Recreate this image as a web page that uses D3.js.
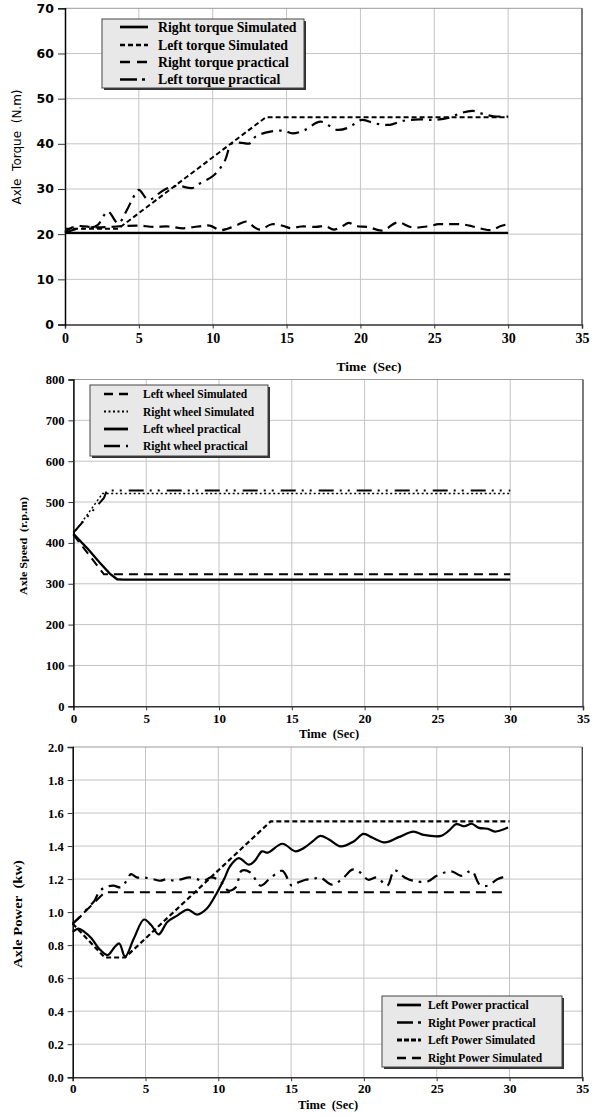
<!DOCTYPE html>
<html><head><meta charset="utf-8">
<script src="https://cdn.jsdelivr.net/npm/d3@7"></script>
<style>body{margin:0;background:#fff}svg{display:block}text{white-space:pre}</style>
</head><body>
<script>
// ---------- shared ticks ----------
const timeTicks = [0,5,10,15,20,25,30,35];
const torqueTicks = [0,10,20,30,40,50,60,70];
const speedTicks = [0,100,200,300,400,500,600,700,800];
const powerTicks = [0,0.2,0.4,0.6,0.8,1.0,1.2,1.4,1.6,1.8,2.0];

// ---------- chart 1: torque ----------
const rightTorqueSim = [[0,20.3],[30,20.3]];
const leftTorqueSim = [[0,21.2],[3.6,21.2],[13.6,45.9],[30,45.9]];
const rightTorquePrac = [[0,20.5],[0.5,21.5],[1,21.8],[2,21.5],[3,21.6],[4,21.8],[5,21.9],[6,21.6],[7,21.7],[8,21.3],[9,21.7],[9.8,21.9],[10.5,20.9],[11,21.2],[11.7,22.1],[12.3,22.8],[12.8,21.6],[13.2,21],[14,22.2],[14.8,21.8],[15.3,21.3],[16,21.7],[17,21.6],[17.6,21.8],[18.2,21],[18.8,21.8],[19.2,22.5],[19.7,21.8],[20.5,21.6],[21.5,20.8],[22.5,22.6],[23.5,21.5],[24.5,21.7],[25.3,22.2],[26,22.2],[26.8,22.2],[27.5,21.8],[28.2,21.2],[28.9,20.9],[29.5,21.8],[30,22.2]];
const leftTorquePrac = [[0,20.2],[0.8,21.2],[1.5,21.3],[2.2,22],[2.9,25],[3.6,22.4],[4.2,25.4],[4.6,28],[5.0,29.8],[5.65,27.6],[6.7,29.8],[7.6,30.7],[8.6,30.2],[9.0,31],[10.1,33.1],[10.8,36.1],[11.3,40.1],[12.0,40.2],[12.5,40.1],[12.9,41.6],[13.9,42.7],[14.8,42.9],[15.4,42.3],[16.2,43],[17.3,44.9],[18.4,43.1],[19.2,43.6],[20.1,45.3],[21,44.5],[22.0,44.2],[22.9,45.1],[24,45.4],[25,45.3],[26,45.8],[26.8,46.8],[27.6,47.3],[28.3,46.6],[29,46.1],[30,46]];
const torqueNames = ["Right torque Simulated","Left torque Simulated","Right torque practical","Left torque practical"];

// ---------- chart 2: speed ----------
const leftWheelSim = [[0,420],[2.1,323],[30,323]];
const rightWheelSim = [[0,422],[2.0,521],[30,521]];
const leftWheelPrac = [[0,422],[1,385],[1.8,352],[2.5,325],[3,311],[3.4,310],[30,310]];
const rightWheelPrac = [[0,425],[2.1,510],[2.3,528],[30,528]];
const speedNames = ["Left wheel Simulated","Right wheel Simulated","Left wheel practical","Right wheel practical"];

// ---------- chart 3: power ----------
const leftPowerPrac = [[0,0.88],[0.4,0.9],[0.8,0.88],[1.3,0.84],[1.8,0.78],[2.4,0.74],[2.9,0.79],[3.2,0.81],[3.6,0.73],[4.2,0.84],[4.9,0.955],[5.4,0.92],[5.9,0.865],[6.5,0.94],[7.2,0.98],[7.9,1.015],[8.55,0.985],[9.2,1.02],[9.9,1.116],[10.4,1.2],[10.8,1.277],[11.4,1.327],[12.1,1.287],[12.5,1.31],[13.0,1.368],[13.4,1.36],[14.4,1.414],[15.3,1.368],[15.9,1.39],[16.5,1.43],[17.0,1.462],[17.6,1.44],[18.4,1.398],[19.3,1.428],[19.97,1.474],[20.6,1.45],[21.45,1.422],[22.4,1.454],[23.4,1.488],[24.1,1.468],[25.3,1.462],[25.8,1.49],[26.35,1.533],[26.9,1.52],[27.4,1.535],[27.9,1.51],[28.5,1.505],[29.0,1.488],[29.9,1.512]];
const rightPowerPrac = [[0,0.93],[0.5,0.97],[1,1.02],[1.5,1.07],[1.8,1.12],[2.2,1.15],[2.8,1.16],[3.3,1.15],[3.7,1.19],[4.0,1.23],[4.4,1.21],[4.9,1.21],[5.5,1.2],[6,1.19],[6.5,1.2],[7,1.19],[7.5,1.2],[8,1.21],[8.5,1.2],[9,1.19],[9.5,1.21],[10.1,1.19],[10.7,1.13],[11.2,1.15],[11.6,1.25],[12.2,1.24],[12.9,1.16],[13.5,1.2],[14.4,1.25],[15.05,1.16],[15.5,1.18],[16,1.196],[16.5,1.2],[17,1.21],[17.8,1.166],[18.5,1.2],[19.2,1.257],[19.6,1.25],[20.3,1.196],[20.9,1.21],[21.6,1.16],[22.1,1.253],[22.8,1.21],[23.4,1.19],[24.4,1.186],[25,1.22],[26,1.247],[26.7,1.22],[27.4,1.25],[27.96,1.166],[28.5,1.16],[29.2,1.2],[29.9,1.22]];
const leftPowerSim = [[0,0.93],[2.2,0.725],[3.6,0.725],[13.6,1.55],[30,1.55]];
const rightPowerSim = [[0,0.93],[2.2,1.12],[29.7,1.12]];
const powerNames = ["Left Power practical","Right Power practical","Left Power Simulated","Right Power Simulated"];

const svg = d3.select("body").append("svg").attr("width",595).attr("height",1117);
const SERIF = "'Liberation Serif','Times New Roman',serif";

function chart(o){
  const x = d3.scaleLinear().domain([0,35]).range(o.xr);
  const y = d3.scaleLinear().domain(o.yd).range(o.yr);
  const g = svg.append("g");
  // grid
  g.selectAll(".vg").data(o.xt.slice(1,-1)).join("line")
    .attr("x1",d=>x(d)).attr("x2",d=>x(d)).attr("y1",o.yr[0]).attr("y2",o.yr[1])
    .attr("stroke","#c4c4c4").attr("stroke-width",1);
  g.selectAll(".hg").data(o.yt.slice(1)).join("line")
    .attr("x1",o.xr[0]).attr("x2",o.xr[1]).attr("y1",d=>y(d)).attr("y2",d=>y(d))
    .attr("stroke",(d,i)=>i===o.yt.length-2?"#9a9a9a":"#c4c4c4").attr("stroke-width",1);
  // right border
  g.append("line").attr("x1",o.xr[1]).attr("x2",o.xr[1]).attr("y1",o.yr[0]).attr("y2",o.yr[1])
    .attr("stroke","#444").attr("stroke-width",1.4);
  // axes
  const ax = g.append("g").attr("transform",`translate(0,${o.yr[0]})`)
    .call(d3.axisBottom(x).tickValues(o.xt).tickSize(4).tickPadding(o.xpad).tickFormat(d3.format("d")));
  ax.select(".domain").attr("stroke","#333").attr("stroke-width",1.5);
  ax.selectAll(".tick line").attr("stroke","#333");
  ax.selectAll("text").attr("font-family",SERIF).attr("font-weight","bold").attr("font-size",o.xfs).attr("fill","#000");
  const ay = g.append("g").attr("transform",`translate(${o.xr[0]},0)`)
    .call(d3.axisLeft(y).tickValues(o.yt).tickSize(o.ytick).tickPadding(4).tickFormat(o.yf));
  ay.select(".domain").attr("stroke","#000").attr("stroke-width",1.5);
  ay.selectAll(".tick line").attr("stroke","#333");
  ay.selectAll("text").attr("font-family",o.yfont).attr("font-weight","bold").attr("font-size",o.yfs).attr("fill","#000");
  // labels
  g.append("text").attr("x",o.xlab[0]).attr("y",o.xlab[1]).attr("text-anchor","middle")
    .attr("font-family",SERIF).attr("font-weight","bold").attr("font-size",o.xlfs).text("Time  (Sec)");
  const yl = g.append("text").attr("transform",`translate(${o.ylab[0]},${o.ylab[1]}) rotate(-90)`).attr("text-anchor","middle")
    .attr("font-family",o.ylfont).attr("font-weight",o.ylw).attr("font-size",o.ylfs).text(o.ylabel);
  if (o.ylen) yl.attr("textLength",o.ylen).attr("lengthAdjust","spacingAndGlyphs");
  // lines
  const line = d3.line().x(d=>x(d[0])).y(d=>y(d[1]));
  o.series.forEach(s=>{
    g.append("path").datum(s.data).attr("fill","none").attr("stroke","#000")
      .attr("stroke-width",s.w).attr("stroke-dasharray",s.dash||null)
      .attr("stroke-linecap",s.cap||"butt")
      .attr("d",line.curve(s.smooth?d3.curveCatmullRom.alpha(0.5):d3.curveLinear));
  });
  // legend
  const L = o.leg;
  const lg = g.append("g");
  lg.append("rect").attr("x",L.x+2).attr("y",L.y+2).attr("width",L.w).attr("height",L.h).attr("fill","#333");
  lg.append("rect").attr("x",L.x).attr("y",L.y).attr("width",L.w).attr("height",L.h).attr("fill","#e8e8e8").attr("stroke","#444").attr("stroke-width",1);
  o.series.forEach((s,i)=>{
    const ry = L.rows[i];
    const ls = s.legDash!==undefined ? s.legDash : s.dash;
    lg.append("line").attr("x1",L.lx[0]).attr("x2",L.lx[1]).attr("y1",ry).attr("y2",ry)
      .attr("stroke","#000").attr("stroke-width",s.lw||s.w+0.5).attr("stroke-dasharray",ls||null);
    lg.append("text").attr("x",L.tx).attr("y",ry).attr("dy","0.35em")
      .attr("font-family",SERIF).attr("font-weight","bold").attr("font-size",L.fs).text(s.name);
  });
}

// chart 1
chart({
  xr:[65,582], yd:[0,70], yr:[324.5,8.3], xt:timeTicks, yt:torqueTicks,
  xpad:5, xfs:14, yfs:12.5, yfont:"'DejaVu Sans',sans-serif", ytick:7, yf:d3.format("d"),
  xlab:[369,371], xlfs:13.5, ylab:[21,147], ylabel:"Axle  Torque  (N.m)", ylfont:"'DejaVu Sans',sans-serif", ylw:"normal", ylfs:12,
  series:[
    {name:torqueNames[0], data:rightTorqueSim, w:2.2},
    {name:torqueNames[1], data:leftTorqueSim, w:2, dash:"5,3"},
    {name:torqueNames[2], data:rightTorquePrac, w:2.2, dash:"10,6", smooth:true, legDash:"10,7"},
    {name:torqueNames[3], data:leftTorquePrac, w:2.2, dash:"12,6,2.5,6", smooth:true, legDash:"17,5,3,5"}
  ],
  leg:{x:102, y:19, w:202, h:69, rows:[27,45,62,79.5], lx:[120,148], tx:158, fs:13.8}
});

// chart 2
chart({
  xr:[73.4,583], yd:[0,800], yr:[706.3,379.5], xt:timeTicks, yt:speedTicks,
  xpad:3, xfs:13, yfs:12.5, yfont:SERIF, ytick:5, yf:d3.format("d"),
  xlab:[329,738], xlfs:12.5, ylab:[27,546], ylabel:"Axle Speed  (r.p.m)", ylfont:SERIF, ylw:"bold", ylfs:11, ylen:98,
  series:[
    {name:speedNames[0], data:leftWheelSim, w:2, dash:"9,6"},
    {name:speedNames[1], data:rightWheelSim, w:1.5, dash:"2,2.5"},
    {name:speedNames[2], data:leftWheelPrac, w:2.3, smooth:false},
    {name:speedNames[3], data:rightWheelPrac, w:2, dash:"15,6,2,6,2,7", legDash:"16,6,2,6"}
  ],
  leg:{x:90, y:385, w:178, h:71, rows:[394,411.5,429,446], lx:[104,128], tx:143, fs:11.5}
});

// chart 3
chart({
  xr:[72.7,582.3], yd:[0,2], yr:[1077.2,747], xt:timeTicks, yt:powerTicks,
  xpad:3, xfs:13, yfs:12.5, yfont:SERIF, ytick:5, yf:d3.format(".1f"),
  xlab:[328,1109], xlfs:12.5, ylab:[22,914], ylabel:"Axle Power  (kw)", ylfont:SERIF, ylw:"bold", ylfs:12, ylen:108,
  series:[
    {name:powerNames[0], data:leftPowerPrac, w:2.2, smooth:true},
    {name:powerNames[1], data:rightPowerPrac, w:2.2, dash:"12,6,2.5,6", smooth:true, legDash:"16,5,3,5"},
    {name:powerNames[2], data:leftPowerSim, w:2.2, dash:"5,3", legDash:"5,2", lw:3.2},
    {name:powerNames[3], data:rightPowerSim, w:2, dash:"10,6", legDash:"9,6"}
  ],
  leg:{x:382, y:996, w:180, h:71, rows:[1005,1022.5,1040,1058], lx:[397,421], tx:428, fs:11.5}
});
</script>
</body></html>
